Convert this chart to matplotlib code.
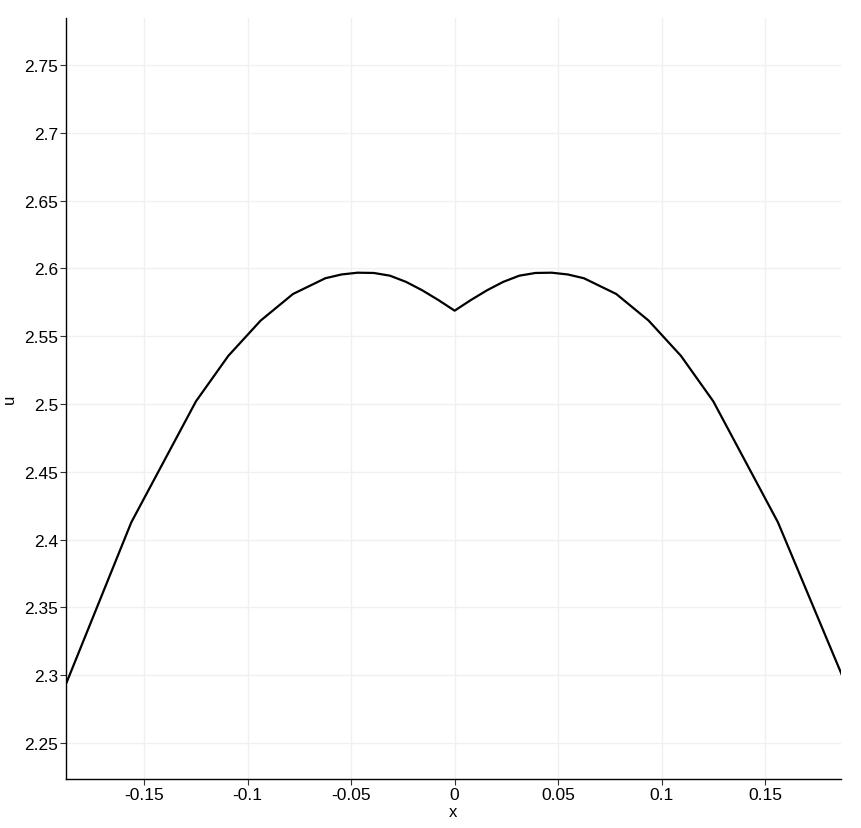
import matplotlib
matplotlib.use('Agg')
import matplotlib.pyplot as plt

# Line profile values
x = [-0.1875, -0.15625, -0.125, -0.109375, -0.09375, -0.078125, -0.0625,
     -0.0546875, -0.046875, -0.0390625, -0.03125, -0.0234375, -0.015625,
     -0.0078125, 0.0,
     0.0078125, 0.015625, 0.0234375, 0.03125, 0.0390625, 0.046875,
     0.0546875, 0.0625, 0.078125, 0.09375, 0.109375, 0.125, 0.15625, 0.1875]
u = [2.2948, 2.4128, 2.5020, 2.5355, 2.5615, 2.5811, 2.5927,
     2.5955, 2.5968, 2.5966, 2.5946, 2.5900, 2.5838,
     2.5766, 2.5688,
     2.5766, 2.5838, 2.5900, 2.5946, 2.5966, 2.5968,
     2.5955, 2.5927, 2.5811, 2.5615, 2.5355, 2.5020, 2.4128, 2.2990]

xticks = [-0.15, -0.1, -0.05, 0, 0.05, 0.1, 0.15]
xticklabels = ['-0.15', '-0.1', '-0.05', '0', '0.05', '0.1', '0.15']
yticks = [2.25, 2.3, 2.35, 2.4, 2.45, 2.5, 2.55, 2.6, 2.65, 2.7, 2.75]
yticklabels = ['2.25', '2.3', '2.35', '2.4', '2.45', '2.5', '2.55', '2.6', '2.65', '2.7', '2.75']

plt.rcParams['font.family'] = ['Liberation Sans', 'DejaVu Sans']

fig = plt.figure(figsize=(8.61, 8.29), dpi=100)
ax = fig.add_axes([0.0772, 0.0591, 0.899, 0.918])

ax.plot(x, u, color='black', lw=1.6, solid_joinstyle='round')

ax.set_xlim(-0.1876, 0.1865)
ax.set_ylim(2.2235, 2.7846)
ax.set_xticks(xticks)
ax.set_xticklabels(xticklabels)
ax.set_yticks(yticks)
ax.set_yticklabels(yticklabels)
ax.tick_params(labelsize=12.5, length=4, width=0.8, pad=2, color='#333333')
ax.grid(True, color='#f0f0f0', lw=1)
ax.set_axisbelow(True)

for side in ['top', 'right']:
    ax.spines[side].set_visible(False)
for side in ['left', 'bottom']:
    ax.spines[side].set_linewidth(1.0)

ax.set_xlabel('x', fontsize=12, labelpad=1)
ax.set_ylabel('u', fontsize=12, labelpad=5)

fig.savefig('out.png', dpi=100)
